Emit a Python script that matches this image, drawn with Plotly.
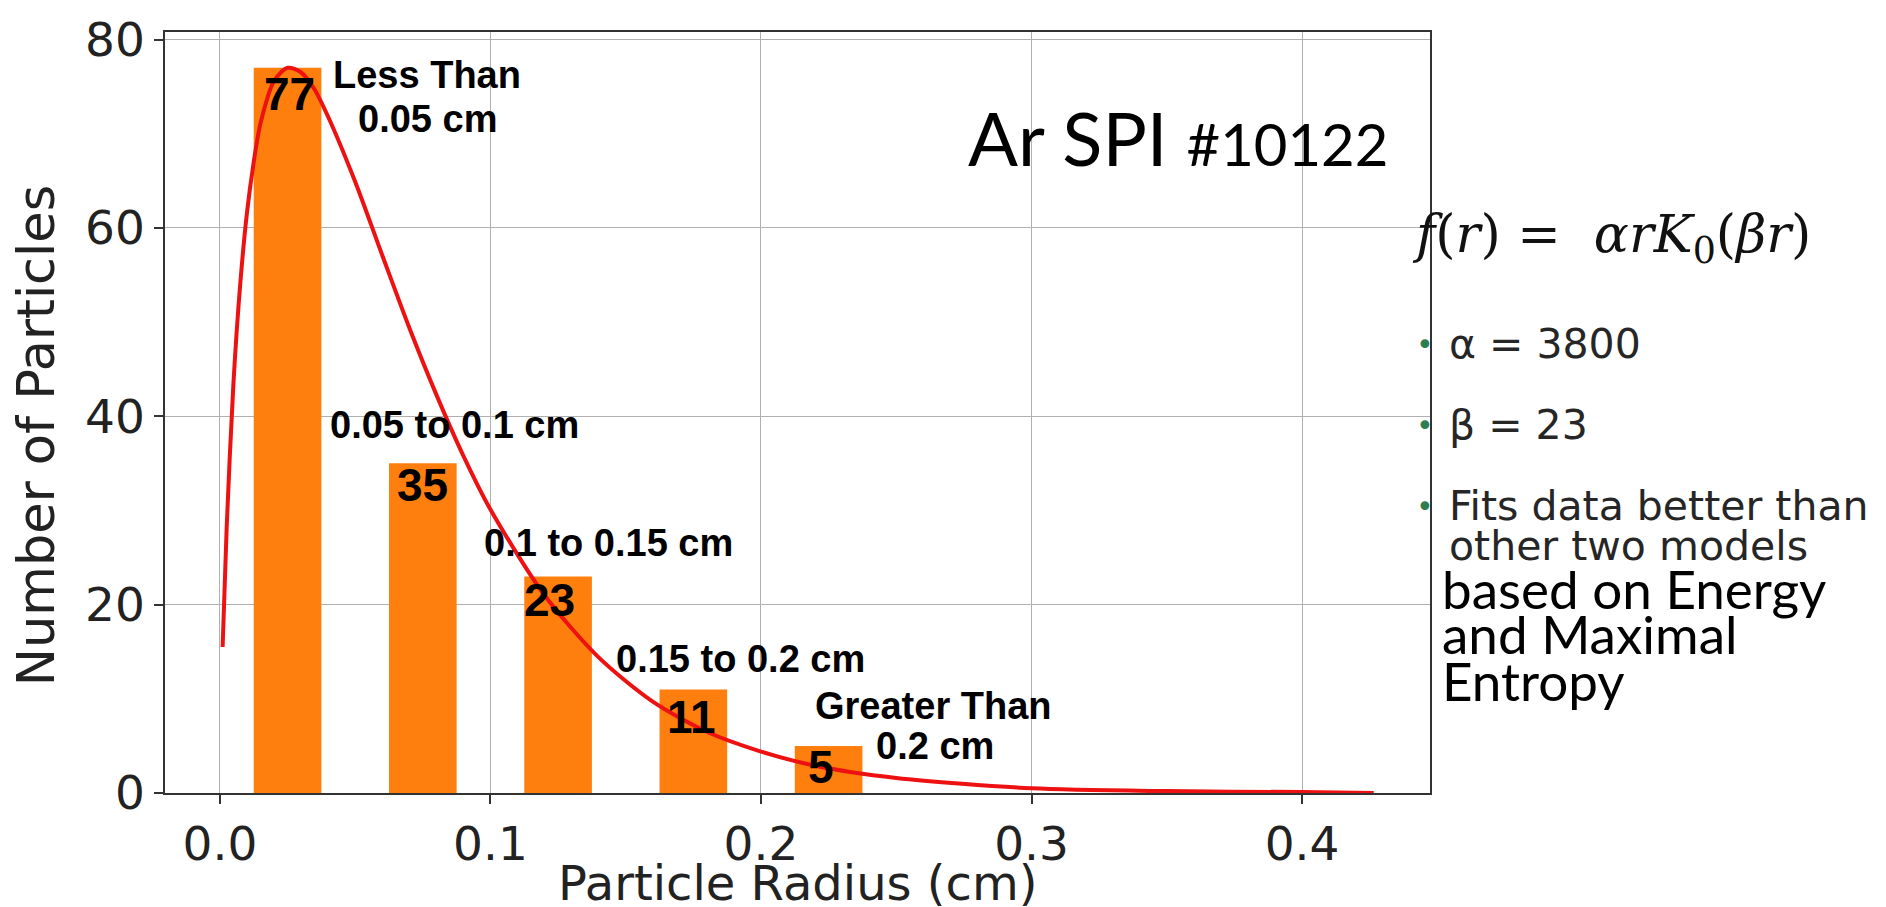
import plotly.graph_objects as go

# ---------------- data ----------------
bin_centers = [0.025, 0.075, 0.125, 0.175, 0.225]
counts = [77, 35, 23, 11, 5]
range_labels_top = ["Less Than", "0.05 to 0.1 cm", "0.1 to 0.15 cm", "0.15 to 0.2 cm", "Greater Than"]
range_labels_bottom = ["0.05 cm", "", "", "", "0.2 cm"]

# fitted curve f(r) = alpha * r * K0(beta r)
fit_r = [0.001, 0.0025, 0.005, 0.0075, 0.01, 0.0125, 0.015, 0.02, 0.025, 0.03, 0.035,
         0.04, 0.05, 0.06, 0.07, 0.08, 0.09, 0.10, 0.12, 0.14, 0.16, 0.18, 0.20,
         0.22, 0.25, 0.30, 0.35, 0.40, 0.4265]
fit_f = [15.5, 28.2, 43.5, 54.0, 61.6, 67.0, 71.1, 75.6, 77.0, 76.5, 74.7,
         71.8, 64.9, 57.1, 49.4, 42.3, 35.8, 30.1, 21.0, 14.4, 9.7, 6.5, 4.4,
         2.9, 1.6, 0.5, 0.2, 0.1, 0.0]

x_ticks = [0.0, 0.1, 0.2, 0.3, 0.4]
x_tick_text = ["0.0", "0.1", "0.2", "0.3", "0.4"]
y_ticks = [0, 20, 40, 60, 80]
y_tick_text = ["0", "20", "40", "60", "80"]

title_main = "Ar SPI"
title_shot = "#10122"
bullet_lines = ["α = 3800", "β = 23", "Fits data better than"]
cont_line = "other two models"
extra_lines = ["based on Energy", "and Maximal", "Entropy"]

# ---------------- layout geometry (pixels) ----------------
W, H = 1886, 907
PL, PR, PT, PB = 165, 1430, 23, 793


def px(xp):
    return (xp - PL) / (PR - PL)


def py(yp):
    return (PB - yp) / (PB - PT)


fig = go.Figure()

fig.add_trace(go.Bar(
    x=bin_centers, y=counts, width=0.025,
    marker=dict(color="#ff7f0e", line=dict(width=0)),
    hoverinfo="skip",
))

fig.add_trace(go.Scatter(
    x=fit_r, y=fit_f, mode="lines",
    line=dict(color="#ee1111", width=4, shape="spline", smoothing=0.8),
    hoverinfo="skip",
))

ann = []
bold = dict(family="Liberation Sans", size=38, color="black", weight="bold")
bold_big = dict(family="Liberation Sans", size=46, color="black", weight="bold")

# count labels
count_pos = [(0.0256, 74.2), (0.075, 32.7), (0.1217, 20.5), (0.1745, 8.1), (0.222, 2.8)]
for (cx, cy), c in zip(count_pos, counts):
    ann.append(dict(x=cx, y=cy, xref="x", yref="y", text=str(c), showarrow=False,
                    font=bold_big, xanchor="center", yanchor="middle"))

# range labels
top_pos = [(0.0765, 76.2), (0.0868, 39.1), (0.1435, 26.5), (0.1925, 14.2), (0.2636, 9.2)]
bot_pos = [(0.0768, 71.6), None, None, None, (0.2644, 5.0)]
for (tx, ty), t in zip(top_pos, range_labels_top):
    ann.append(dict(x=tx, y=ty, xref="x", yref="y", text=t, showarrow=False,
                    font=bold, xanchor="center", yanchor="middle"))
for p, t in zip(bot_pos, range_labels_bottom):
    if p and t:
        ann.append(dict(x=p[0], y=p[1], xref="x", yref="y", text=t, showarrow=False,
                        font=bold, xanchor="center", yanchor="middle"))

# axis titles
ann.append(dict(x=px(797), y=py(884), xref="paper", yref="paper",
                text="Particle Radius (cm)", showarrow=False,
                font=dict(family="DejaVu Sans", size=48, color="#222"),
                xanchor="center", yanchor="middle"))
ann.append(dict(x=px(36), y=py(432), xref="paper", yref="paper",
                text="Number of Particles", showarrow=False, textangle=-90,
                font=dict(family="DejaVu Sans", size=51, color="#222"),
                xanchor="center", yanchor="middle"))

# in-plot title
ann.append(dict(x=px(1390), y=py(130), xref="paper", yref="paper",
                text=f"{title_main} <span style='font-size:58px'>{title_shot}</span>",
                showarrow=False, font=dict(family="Lato", size=74, color="black"),
                xanchor="right", yanchor="middle"))

# formula
ann.append(dict(x=px(1410), y=py(231), xref="paper", yref="paper",
                text="<i>f</i>(<i>r</i>) =  <i>αrK</i><sub>0</sub>(<i>βr</i>)",
                showarrow=False, font=dict(family="DejaVu Serif", size=52, color="#111"),
                xanchor="left", yanchor="middle"))

# bullets
bullet_y = [339, 421, 503]
for yv, t in zip(bullet_y, bullet_lines):
    ann.append(dict(x=px(1414), y=py(yv), xref="paper", yref="paper", text="•",
                    showarrow=False, font=dict(family="DejaVu Sans", size=30, color="#2e7d4f"),
                    xanchor="left", yanchor="middle"))
    ann.append(dict(x=px(1447), y=py(yv), xref="paper", yref="paper", text=t,
                    showarrow=False, font=dict(family="DejaVu Sans", size=41, color="#262626"),
                    xanchor="left", yanchor="middle"))
ann.append(dict(x=px(1447), y=py(543), xref="paper", yref="paper", text=cont_line,
                showarrow=False, font=dict(family="DejaVu Sans", size=41, color="#262626"),
                xanchor="left", yanchor="middle"))
for yv, t in zip([586, 632, 679], extra_lines):
    ann.append(dict(x=px(1440), y=py(yv), xref="paper", yref="paper", text=t,
                    showarrow=False, font=dict(family="Lato", size=53, color="black"),
                    xanchor="left", yanchor="middle"))

fig.update_layout(
    width=W, height=H,
    margin=dict(l=PL, r=W - PR, t=PT, b=H - PB),
    plot_bgcolor="white", paper_bgcolor="white",
    showlegend=False,
    annotations=ann,
)

axis_common = dict(
    showline=True, linecolor="#333", linewidth=1.5, mirror=True,
    showgrid=True, gridcolor="#b0b0b0", gridwidth=1,
    ticks="outside", ticklen=9, tickwidth=1.5, tickcolor="#333",
    tickfont=dict(family="DejaVu Sans", size=47, color="#222"),
    zeroline=False,
)
fig.update_xaxes(range=[-0.0203, 0.4473], tickvals=x_ticks, ticktext=x_tick_text, **axis_common)
fig.update_yaxes(range=[0, 80.8], tickvals=y_ticks, ticktext=y_tick_text, **axis_common)

fig.write_html("out.html")
